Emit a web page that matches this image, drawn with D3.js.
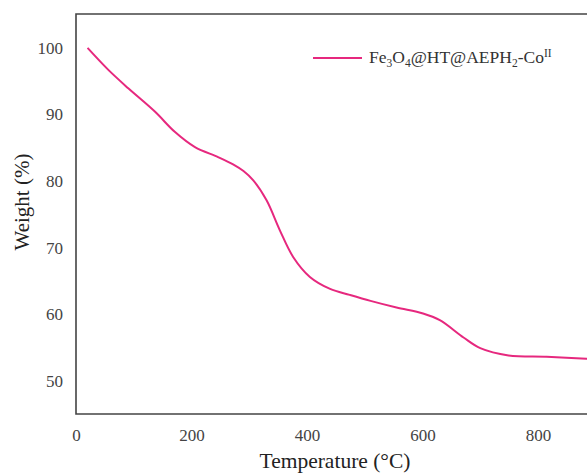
<!DOCTYPE html>
<html>
<head>
<meta charset="utf-8">
<script src="https://cdn.jsdelivr.net/npm/d3@7"></script>
<style>
  body { margin: 0; background: #fff; }
  svg { display: block; font-family: "Liberation Serif", "Times New Roman", serif; }
</style>
</head>
<body>
<svg id="chart" width="587" height="475"></svg>
<script>
// TGA curve
const temps = [20, 56, 91, 137, 171, 206, 246, 272, 290, 307, 330, 353, 376, 405, 440, 474, 510, 555, 601, 630, 671, 700, 749, 815, 884, 900]
const weights = [100, 96.7, 93.9, 90.4, 87.4, 85.1, 83.6, 82.5, 81.5, 80.1, 77.1, 72.6, 68.6, 65.6, 63.8, 62.9, 62.0, 61.0, 60.1, 59.1, 56.5, 54.9, 53.8, 53.6, 53.3, 53.2]
const xTicks = [0, 200, 400, 600, 800]
const yTicks = [50, 60, 70, 80, 90, 100]

const svg = d3.select('#chart')
const x0 = 76, x1 = 76 + 900 * 0.5775
const yTop = 14, yBot = 414

const xScale = d3.scaleLinear().domain([0, 900]).range([x0, x1])
const yScale = d3.scaleLinear().domain([45, 105.1]).range([yBot, yTop])

// frame (right edge falls outside the picture)
svg.append('path')
  .attr('d', `M${x0},${yTop}V${yBot}H${x1}V${yTop}Z`)
  .attr('fill', 'none')
  .attr('stroke', '#444')
  .attr('stroke-width', 1.6)

const xAxis = d3.axisBottom(xScale).tickValues(xTicks).tickSize(0).tickPadding(15)
const xg = svg.append('g').attr('transform', `translate(0,${yBot})`).call(xAxis)
xg.select('.domain').remove()
xg.selectAll('text')
  .attr('font-family', '"Liberation Serif", serif')
  .attr('font-size', 17)
  .attr('fill', '#444')

const yAxis = d3.axisLeft(yScale).tickValues(yTicks).tickSize(0).tickPadding(13)
const yg = svg.append('g').attr('transform', `translate(${x0},0)`).call(yAxis)
yg.select('.domain').remove()
yg.selectAll('text')
  .attr('font-family', '"Liberation Serif", serif')
  .attr('font-size', 17)
  .attr('fill', '#444')

svg.append('text')
  .attr('x', 335).attr('y', 468)
  .attr('text-anchor', 'middle')
  .attr('font-size', 21.5)
  .attr('fill', '#222')
  .text('Temperature (°C)')

svg.append('text')
  .attr('transform', 'translate(29,202) rotate(-90)')
  .attr('text-anchor', 'middle')
  .attr('font-size', 21)
  .attr('fill', '#222')
  .text('Weight (%)')

const line = d3.line()
  .x((d, i) => xScale(temps[i]))
  .y((d) => yScale(d))
  .curve(d3.curveCatmullRom.alpha(0.5))

svg.append('path')
  .datum(weights)
  .attr('fill', 'none')
  .attr('stroke', '#e6287e')
  .attr('stroke-width', 2)
  .attr('d', line)

// legend
svg.append('line')
  .attr('x1', 313).attr('x2', 362)
  .attr('y1', 58).attr('y2', 58)
  .attr('stroke', '#e6287e')
  .attr('stroke-width', 2)

const lt = svg.append('text')
  .attr('x', 369).attr('y', 63)
  .attr('font-size', 17.5)
  .attr('fill', '#333')
lt.append('tspan').text('Fe')
lt.append('tspan').attr('font-size', 11.5).attr('dy', 4).text('3')
lt.append('tspan').attr('dy', -4).text('O')
lt.append('tspan').attr('font-size', 11.5).attr('dy', 4).text('4')
lt.append('tspan').attr('dy', -4).text('@HT@AEPH')
lt.append('tspan').attr('font-size', 11.5).attr('dy', 4).text('2')
lt.append('tspan').attr('dy', -4).text('-Co')
lt.append('tspan').attr('font-size', 11.5).attr('dy', -6).text('II')
</script>
</body>
</html>
